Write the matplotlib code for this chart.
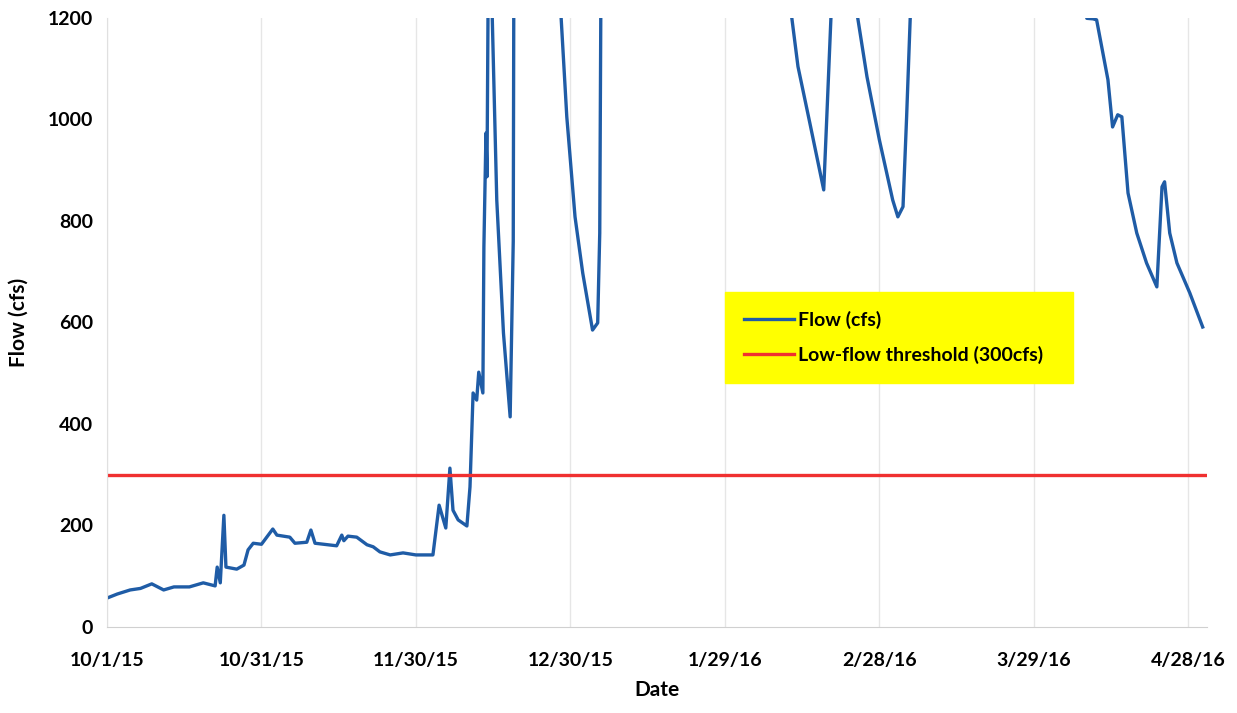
import matplotlib
matplotlib.use("Agg")
import matplotlib.pyplot as plt
import pandas as pd

# days since 10/1/15 and flow (cfs)
# values above 1200 run off the top of the plot
days = [0, 2, 4.5, 6.5, 8.7, 11, 13, 16, 18.7, 21, 21.4, 22, 22.7, 23.1, 25.2, 26.6,
        27.4, 28.4, 30, 32.2, 33, 35.5, 36.5, 38.8, 39.6, 40.4, 44.6, 45.6, 46, 46.8,
        48.5, 50.5, 51.7, 53, 55, 57.5, 60, 63.3, 64.5, 65.8, 66.6, 67.2, 68.2, 69.9,
        70.5, 71.1, 71.8, 72.2, 73, 73.2, 73.6, 73.8, 74.0, 74.4, 74.8, 75.7, 77, 78.3,
        78.9, 79.0, 80, 86, 87.6, 88.2, 89.3, 90.9, 92.4, 94.3, 95.3, 95.7, 95.9, 97,
        131, 133, 134.2, 136.5, 139.2, 139.8, 140.6, 142, 145, 145.8, 147.6, 150, 152.6,
        153.6, 154.6, 155.3, 156, 158, 188, 190.3, 191.5, 192.2, 194.4, 195.3, 196.3,
        197.1, 198.3, 200, 201.9, 203.9, 204.9, 205.4, 206.4, 207.8, 210.3, 212.8]
flow = [57, 65, 73, 76, 85, 73, 79, 79, 87, 81, 118, 87, 220, 118, 114, 122,
        152, 165, 163, 193, 181, 177, 165, 167, 191, 165, 160, 181, 170, 179,
        177, 162, 158, 148, 142, 146, 142, 142, 240, 195, 313, 230, 211, 199,
        276, 461, 447, 502, 461, 749, 973, 887, 1210, 1260, 1210, 841, 579, 414,
        760, 1210, 2500, 2200, 1400, 1200, 1005, 808, 697, 585, 599, 776, 1200, 2000,
        1800, 1200, 1104, 993, 861, 1005, 1200, 1800, 1400, 1200, 1084, 960, 841,
        808, 828, 1005, 1200, 2000, 1500, 1199, 1198, 1196, 1078, 985, 1009,
        1005, 855, 776, 717, 670, 867, 877, 776, 717, 658, 591]
threshold = 300

tick_days = [0, 30, 60, 90, 120, 150, 180, 210]
tick_labels = ['10/1/15', '10/31/15', '11/30/15', '12/30/15', '1/29/16', '2/28/16',
               '3/29/16', '4/28/16']

plt.rcParams['font.family'] = ['Lato', 'DejaVu Sans']
plt.rcParams['font.weight'] = 'bold'

start = pd.Timestamp('2015-10-01')
dates = start + pd.to_timedelta(days, unit='D')
x_end = start + pd.Timedelta(days=213.7)

fig = plt.figure(figsize=(12.37, 7.13), dpi=100)
ax = fig.add_axes([0.0865, 0.1206, 0.8895, 0.8544])

ax.plot(dates, flow, color='#1f5ca6', lw=2.4, label='Flow (cfs)')
ax.plot([start, x_end], [threshold, threshold], color='#f03030', lw=2.4,
        label='Low-flow threshold (300cfs)')

ax.set_xlim(start, x_end)
ax.set_ylim(0, 1200)
ax.set_yticks(range(0, 1201, 200))
ax.set_xticks([start + pd.Timedelta(days=d) for d in tick_days])
ax.set_xticklabels(tick_labels)
ax.tick_params(length=0, labelsize=14, pad=18)
ax.tick_params(axis='y', pad=10)
ax.grid(axis='x', color='#e6e6e6', lw=1)
ax.set_axisbelow(True)
for s in ['top', 'right']:
    ax.spines[s].set_visible(False)
ax.spines['left'].set_color('#e0e0e0')
ax.spines['bottom'].set_color('#d0d0d0')

ax.set_xlabel('Date', fontsize=15, fontweight='bold', labelpad=8)
ax.set_ylabel('Flow (cfs)', fontsize=15, fontweight='bold', labelpad=14)

leg = ax.legend(loc='upper left', bbox_to_anchor=(0.562, 0.55, 0.316, 0.0), mode='expand',
                fontsize=14, frameon=True, facecolor='#ffff00', edgecolor='#ffff00',
                framealpha=1, fancybox=False, handlelength=2.6, handletextpad=0.2,
                borderpad=0.95, labelspacing=0.9, borderaxespad=0)
for t in leg.get_texts():
    t.set_fontweight('bold')

fig.savefig('out.png', dpi=100, facecolor='white')
